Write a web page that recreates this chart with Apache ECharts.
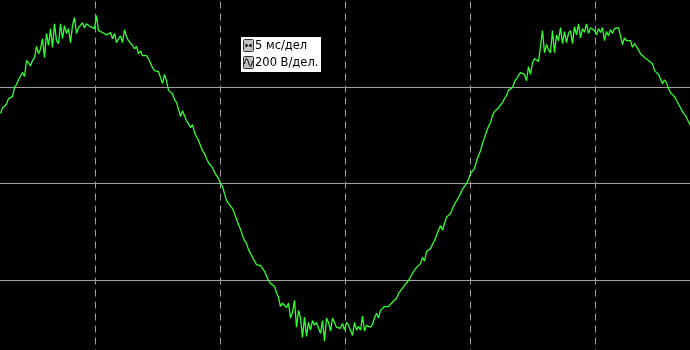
<!DOCTYPE html>
<html><head><meta charset="utf-8">
<script src="https://cdn.jsdelivr.net/npm/echarts@6/dist/echarts.min.js"></script>
<style>html,body{margin:0;padding:0;background:#000;}#c{width:690px;height:350px;}</style>
</head><body><div id="c"></div>
<script>
// time of first sample (ms) and sample spacing (ms)
const T0 = 1.2;
const DT = 0.08;
// axis setup (ms / V)
const timeTicks = [0, 5, 10, 15, 20, 25];
const voltTicks = [-400, -200, 0, 200, 400];
// legend texts
const legendTexts = ['5 мс/дел', '200 В/дел.'];
const volts = [
145,157,159,164,176,178,180,199,205,215,213,230,222,255,250,244,255,261,284,269,279,
300,261,311,286,321,282,331,296,290,331,300,327,311,321,292,327,344,311,323,327,333,323,331,333,325,327,321,348,317,321,313,315,308,306,313,300,311,
292,300,306,292,319,304,296,296,286,279,284,269,275,265,261,265,259,259,240,234,238,232,228,207,226,213,193,197,186,174,168,168,139,151,147,130,124,116,122,106,97,89,85,68,62,52,43,41,33,23,19,10,0,
-6,-21,-35,-41,-39,-52,-62,-58,-85,-95,-108,-118,-124,-137,-145,-153,-161,-168,-170,-170,-176,-182,-192,-201,-207,-211,-213,-226,-236,-255,-248,-244,-257,-248,-279,-267,-242,-298,-263,-279,-319,-277,-317,-288,-304,-284,-294,-288,-286,-311,-284,-327,-279,-288,-306,-279,-288,-298,-294,-300,
-290,-304,-288,-294,-304,-315,-288,-304,-296,-304,-275,-306,-294,-290,-298,-292,-279,-269,-279,-263,-259,-255,-259,-255,-257,-246,-244,-238,-228,-224,-217,-211,-207,-201,-197,-186,-182,-174,-172,-166,-153,-161,-141,-137,-135,-126,-118,-116,-97,-87,-97,-83,-70,-68,-62,-52,-43,-39,-29,-21,-12,-6,0,
8,21,25,31,46,58,68,83,95,108,118,126,141,149,153,157,161,168,176,182,193,193,199,211,217,224,230,232,226,213,242,226,250,259,261,253,284,317,271,288,277,271,317,271,308,296,323,290,315,292,311,317,290,325,308,331,302,321,313,331,311,323,327,317,308,321,313,323,296,315,306,319,311,321,317,323,306,288,302,296,292,296,282,290,292,277,269,273,261,259,255,257,248,234,232,226,224,207,215,209,197,188,184,180,172,172,157,149,145,137,128,120
];

const seriesData = volts.map((v, i) => [T0 + i * DT, v]);

const chart = echarts.init(document.getElementById('c'), null, {renderer: 'canvas'});
const gridColor = '#a0a0a0';
chart.setOption({
  backgroundColor: '#000000',
  animation: false,
  grid: {left: -29.5, top: -9.5, width: 720, height: 386, containLabel: false, outerBoundsMode: 'none'},
  xAxis: {
    type: 'value', min: timeTicks[0], max: 28.8, interval: 5,
    axisLine: {show: false}, axisTick: {show: false}, axisLabel: {show: false},
    splitLine: {show: true, lineStyle: {color: gridColor, width: 1, type: [7, 5], dashOffset: 1}}
  },
  yAxis: {
    type: 'value', min: voltTicks[0], max: voltTicks[voltTicks.length - 1], interval: 200,
    axisLine: {show: false}, axisTick: {show: false}, axisLabel: {show: false},
    splitLine: {show: true, lineStyle: {color: gridColor, width: 1, type: 'solid'}}
  },
  series: [{
    type: 'line', data: seriesData, showSymbol: false, symbol: 'none',
    lineStyle: {color: '#33ff33', width: 1.3}, z: 5
  }],
  graphic: [{
    type: 'group', left: 241, top: 37, z: 100,
    children: [
      {type: 'rect', shape: {x: 0, y: 0, width: 80, height: 35}, style: {fill: '#ffffff'}},
      {type: 'rect', shape: {x: 2.5, y: 2.5, width: 10, height: 12, r: 1}, style: {fill: '#c0c0c0', stroke: '#303030', lineWidth: 1}},
      {type: 'polygon', shape: {points: [[4.5, 6.5], [7.5, 8.5], [4.5, 10.5]]}, style: {fill: '#000'}},
      {type: 'polygon', shape: {points: [[10.5, 6.5], [7.5, 8.5], [10.5, 10.5]]}, style: {fill: '#000'}},
      {type: 'rect', shape: {x: 2.5, y: 19.5, width: 10, height: 12, r: 1}, style: {fill: '#c0c0c0', stroke: '#303030', lineWidth: 1}},
      {type: 'bezierCurve', shape: {x1: 3.5, y1: 27, x2: 7.5, y2: 25.5, cpx1: 5, cpy1: 20, cpx2: 6, cpy2: 20}, style: {stroke: '#000', lineWidth: 1, fill: null}},
      {type: 'bezierCurve', shape: {x1: 7.5, y1: 25.5, x2: 11.5, y2: 24, cpx1: 9, cpy1: 31, cpx2: 10, cpy2: 31}, style: {stroke: '#000', lineWidth: 1, fill: null}},
      {type: 'text', x: 14, y: 9, style: {text: legendTexts[0], fill: '#000', font: '11.5px "DejaVu Sans"', textVerticalAlign: 'middle', verticalAlign: 'middle'}},
      {type: 'text', x: 14, y: 26, style: {text: legendTexts[1], fill: '#000', font: '11.5px "DejaVu Sans"', textVerticalAlign: 'middle', verticalAlign: 'middle'}}
    ]
  }]
});
</script>
</body></html>
